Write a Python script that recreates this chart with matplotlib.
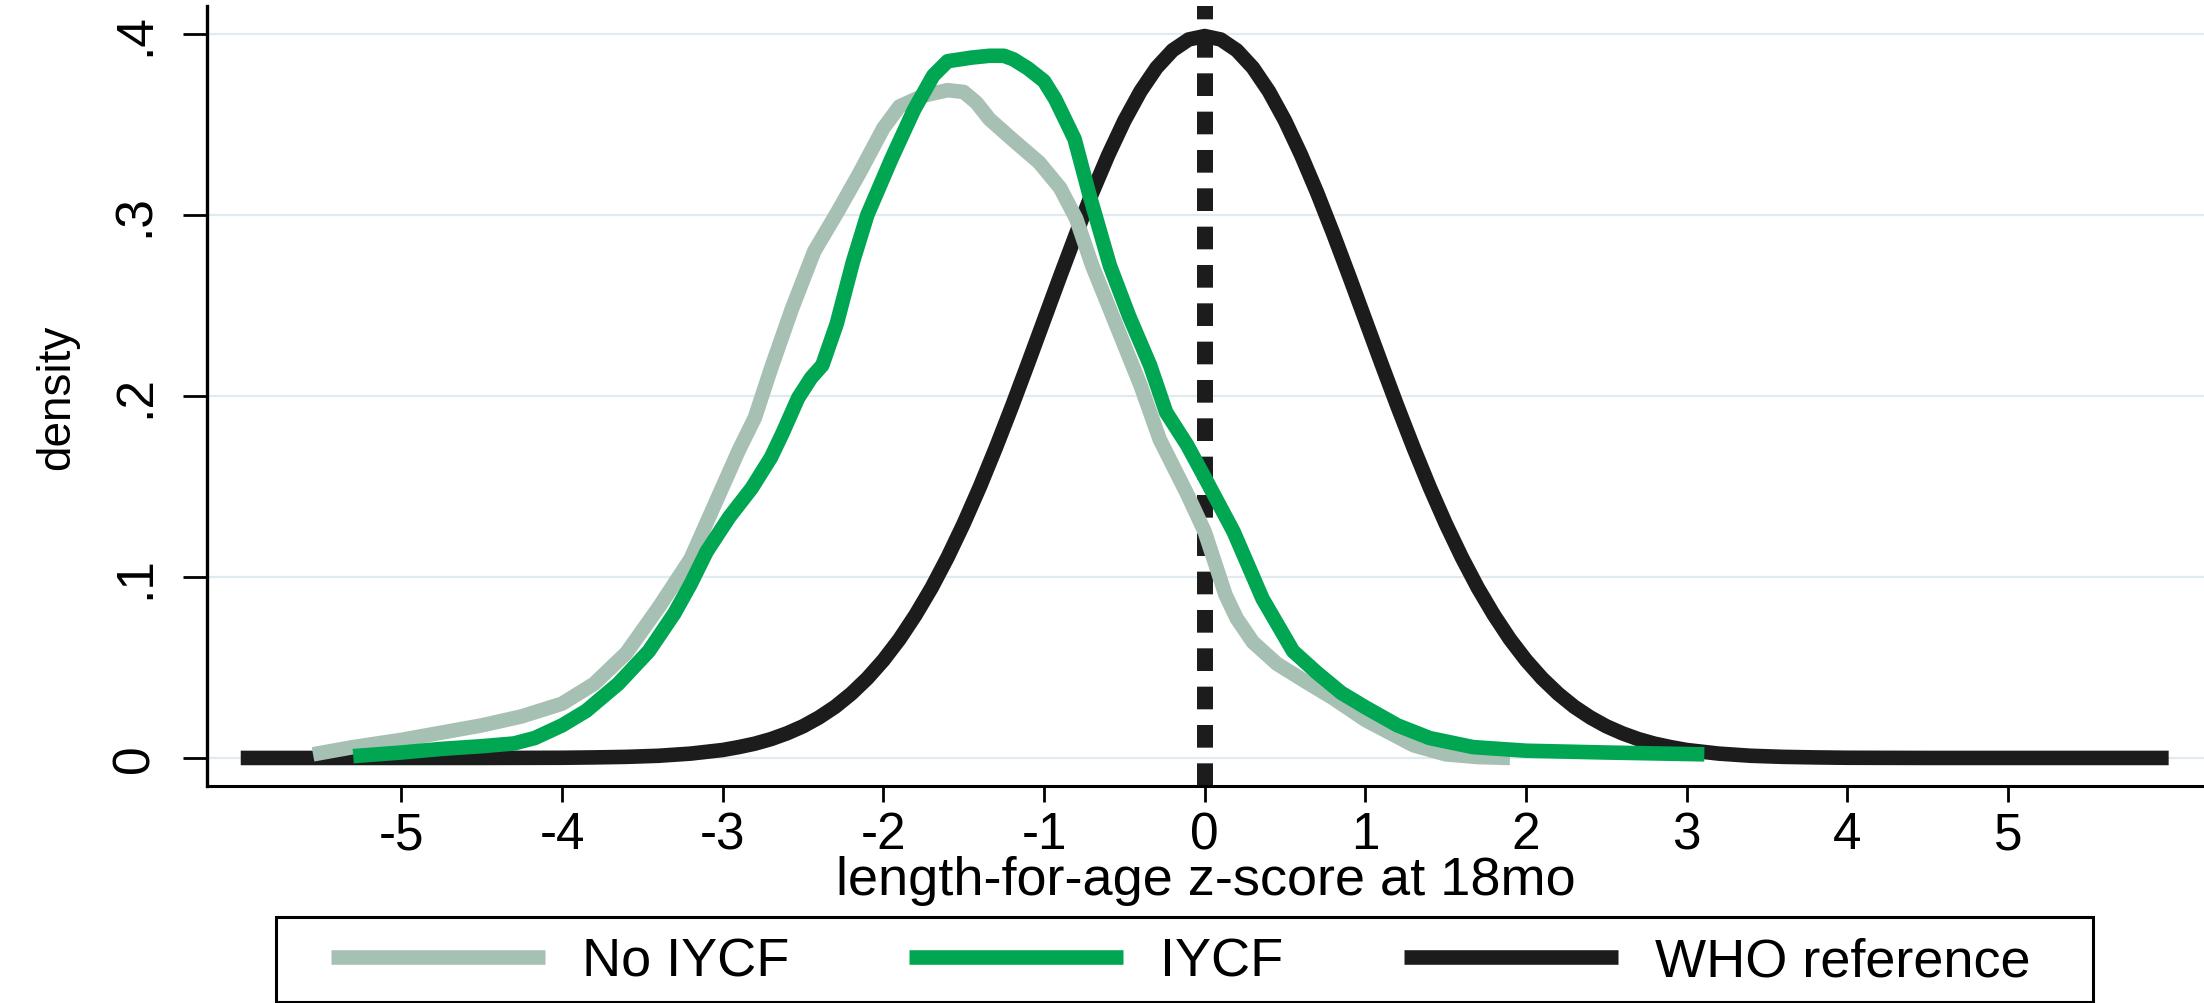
import matplotlib.pyplot as plt
from matplotlib.lines import Line2D
from matplotlib.patches import Rectangle

plt.rc('font', family=['Liberation Sans', 'DejaVu Sans'])

# data
no_iycf_x = [-5.55, -5.3, -5.0, -4.75, -4.5, -4.25, -4.0, -3.8, -3.6, -3.4, -3.2, -3.05,
             -2.9, -2.8, -2.7, -2.57, -2.43, -2.29, -2.15, -2.0, -1.9, -1.75, -1.6, -1.5,
             -1.42, -1.34, -1.2, -1.03, -0.9, -0.8, -0.7, -0.55, -0.4, -0.28, -0.11, 0.0,
             0.13, 0.2, 0.3, 0.45, 0.65, 0.8, 1.0, 1.15, 1.3, 1.5, 1.7, 1.9]
no_iycf_y = [0.002, 0.006, 0.010, 0.014, 0.018, 0.023, 0.030, 0.041, 0.058, 0.083, 0.110, 0.140,
             0.170, 0.188, 0.215, 0.248, 0.280, 0.301, 0.323, 0.348, 0.360, 0.366, 0.369, 0.368,
             0.362, 0.353, 0.342, 0.329, 0.315, 0.298, 0.272, 0.239, 0.206, 0.176, 0.146, 0.125,
             0.090, 0.077, 0.064, 0.052, 0.041, 0.033, 0.021, 0.014, 0.007, 0.002, 0.0005, 0.0]

iycf_x = [-5.3, -5.0, -4.75, -4.5, -4.3, -4.17, -4.0, -3.85, -3.65, -3.46, -3.3, -3.2, -3.1,
          -2.96, -2.82, -2.7, -2.63, -2.53, -2.45, -2.38, -2.29, -2.19, -2.1, -1.95, -1.81,
          -1.69, -1.6, -1.45, -1.34, -1.25, -1.19, -1.1, -1.0, -0.93, -0.81, -0.72, -0.59,
          -0.47, -0.34, -0.24, -0.11, 0.0, 0.18, 0.36, 0.55, 0.7, 0.85, 1.0, 1.2, 1.4, 1.67,
          2.0, 2.5, 3.11]
iycf_y = [0.001, 0.003, 0.005, 0.0065, 0.008, 0.011, 0.018, 0.026, 0.041, 0.059, 0.080, 0.096, 0.114,
          0.133, 0.149, 0.166, 0.179, 0.199, 0.210, 0.217, 0.240, 0.274, 0.300, 0.331, 0.358,
          0.377, 0.385, 0.387, 0.388, 0.388, 0.386, 0.381, 0.374, 0.364, 0.342, 0.312, 0.272,
          0.244, 0.217, 0.191, 0.173, 0.155, 0.125, 0.088, 0.059, 0.047, 0.036, 0.028, 0.018, 0.011, 0.006,
          0.004, 0.003, 0.002]

who_x = [-6.0, -5.0, -4.5, -4.0, -3.8, -3.6, -3.4, -3.2,
         -3.0, -2.9, -2.8, -2.7, -2.6, -2.5, -2.4, -2.3, -2.2, -2.1, -2.0,
         -1.9, -1.8, -1.7, -1.6, -1.5, -1.4, -1.3, -1.2, -1.1, -1.0,
         -0.9, -0.8, -0.7, -0.6, -0.5, -0.4, -0.3, -0.2, -0.1, 0.0,
         0.1, 0.2, 0.3, 0.4, 0.5, 0.6, 0.7, 0.8, 0.9, 1.0,
         1.1, 1.2, 1.3, 1.4, 1.5, 1.6, 1.7, 1.8, 1.9, 2.0,
         2.1, 2.2, 2.3, 2.4, 2.5, 2.6, 2.7, 2.8, 2.9, 3.0,
         3.2, 3.4, 3.6, 3.8, 4.0, 4.5, 5.0, 6.0]
who_y = [0.0, 0.0, 0.0, 0.0001, 0.0003, 0.0006, 0.0012, 0.0024,
         0.0044, 0.0060, 0.0079, 0.0104, 0.0136, 0.0175, 0.0224, 0.0283, 0.0355, 0.0440, 0.0540,
         0.0656, 0.0790, 0.0940, 0.1109, 0.1295, 0.1497, 0.1714, 0.1942, 0.2179, 0.2420,
         0.2661, 0.2897, 0.3123, 0.3332, 0.3521, 0.3683, 0.3814, 0.3910, 0.3970, 0.3989,
         0.3970, 0.3910, 0.3814, 0.3683, 0.3521, 0.3332, 0.3123, 0.2897, 0.2661, 0.2420,
         0.2179, 0.1942, 0.1714, 0.1497, 0.1295, 0.1109, 0.0940, 0.0790, 0.0656, 0.0540,
         0.0440, 0.0355, 0.0283, 0.0224, 0.0175, 0.0136, 0.0104, 0.0079, 0.0060, 0.0044,
         0.0024, 0.0012, 0.0006, 0.0003, 0.0001, 0.0, 0.0, 0.0]

xticks = [-5, -4, -3, -2, -1, 0, 1, 2, 3, 4, 5]
xtick_labels = ['-5', '-4', '-3', '-2', '-1', '0', '1', '2', '3', '4', '5']
yticks = [0, 0.1, 0.2, 0.3, 0.4]
ytick_labels = ['0', '.1', '.2', '.3', '.4']

labels = ['No IYCF', 'IYCF', 'WHO reference']
colors = ['#a6c1b3', '#00a651', '#1c1c1c']

W, H = 2204, 1004
fig = plt.figure(figsize=(W / 100, H / 100), dpi=100)
ax = fig.add_axes([207 / W, 1 - 787 / H, (W - 207) / W, (787 - 7) / H])

lw = 10.5
ax.axvline(0, color='#1c1c1c', lw=11.5, linestyle=(0, (1.42, 0.98)), zorder=1.5)
ax.plot(who_x, who_y, color=colors[2], lw=lw, solid_capstyle='butt', solid_joinstyle='round', zorder=2)
ax.plot(no_iycf_x, no_iycf_y, color=colors[0], lw=lw, solid_capstyle='butt', solid_joinstyle='round', zorder=3)
ax.plot(iycf_x, iycf_y, color=colors[1], lw=lw, solid_capstyle='butt', solid_joinstyle='round', zorder=4)

ax.set_xlim(-6.21, 6.22)
ax.set_ylim(-0.0155, 0.4155)

for s in ['top', 'right']:
    ax.spines[s].set_visible(False)
ax.spines['left'].set_linewidth(2.4)
ax.spines['bottom'].set_linewidth(2.2)

ax.set_xticks(xticks)
ax.set_xticklabels(xtick_labels)
ax.set_yticks(yticks)
ax.set_yticklabels(ytick_labels, rotation=90, va='center')
ax.tick_params(axis='x', length=11.5, width=2, pad=6, labelsize=37)
ax.tick_params(axis='y', length=17, width=2, pad=17, labelsize=37)

ax.yaxis.grid(True, color='#e1eaee', lw=1.6)
ax.set_axisbelow(True)

ax.set_xlabel('length-for-age z-score at 18mo', fontsize=39)
ax.xaxis.set_label_coords(0.5, -0.089)
ax.set_ylabel('density', fontsize=33)
ax.yaxis.set_label_coords(-0.064, 0.5)

handles = [Line2D([], [], color=c, lw=lw, solid_capstyle='butt') for c in colors]
fig.legend(handles, labels, loc='center left', bbox_to_anchor=(331 / W, 1 - 963 / H),
           ncol=3, frameon=False, fontsize=39, handlelength=3.95, handletextpad=0.68,
           columnspacing=2.22, borderpad=0, borderaxespad=0)
fig.add_artist(Rectangle((276 / W, 1 - 1003 / H), (2093 - 276) / W, (1003 - 918) / H,
                         transform=fig.transFigure, fill=False, edgecolor='black', lw=2.2))

fig.savefig('out.png', dpi=100)
